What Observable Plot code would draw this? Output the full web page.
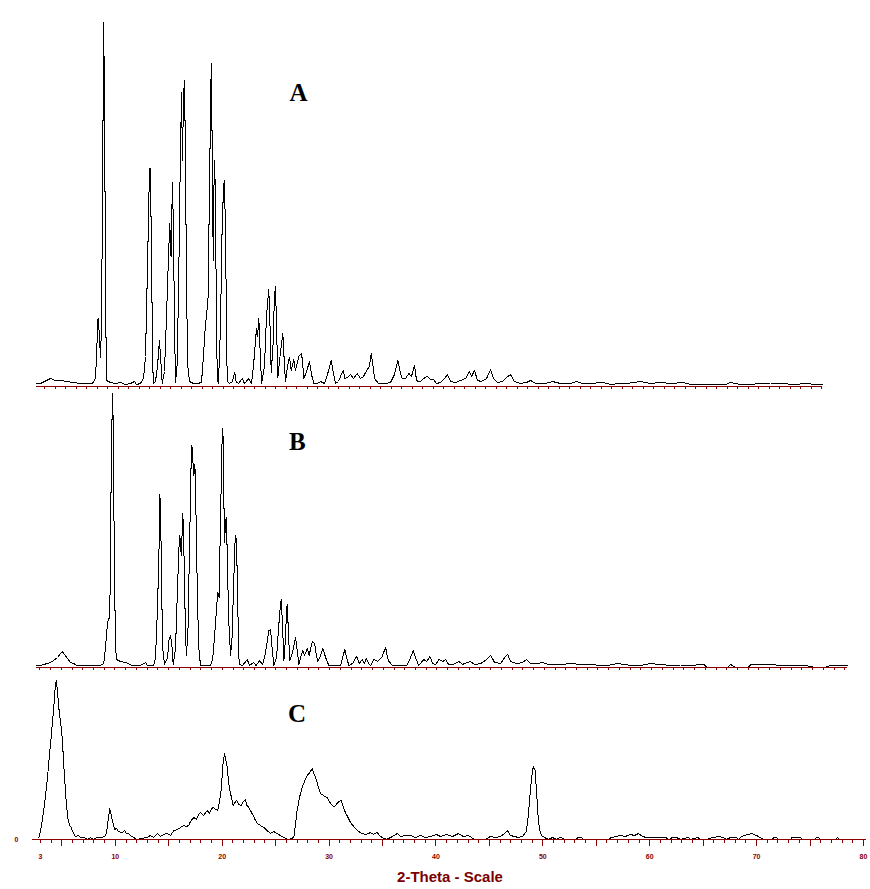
<!DOCTYPE html>
<html>
<head>
<meta charset="utf-8">
<script src="https://cdn.jsdelivr.net/npm/d3@7"></script>
<script src="https://cdn.jsdelivr.net/npm/@observablehq/plot@0.6"></script>
<style>
  body { margin: 0; background: #fff; }
  #chart { position: relative; width: 870px; height: 889px; background: #fff; overflow: hidden; }
  #chart svg { position: absolute; left: 0; overflow: visible; }
  #chart svg path, #chart svg line { shape-rendering: crispEdges; }
  #xlabel { position: absolute; left: 350px; width: 200px; top: 868px; line-height: 18px; text-align: center;
            font: bold 15px "Liberation Sans", Arial, sans-serif; color: #7a0000; }
</style>
</head>
<body>
<div id="chart"><div id="xlabel"></div></div>
<script>
// [2-theta (deg), intensity (a.u.)], one list per sample
const scanA = [[2.24,3],[2.62,3],[3.00,5],[3.57,8],[4.05,6],[4.52,6],[5.10,5],[5.67,4],[6.43,3],[7.57,3],[7.86,8],[8.10,68],[8.24,50],[8.33,29],[8.43,60],[8.57,260],[8.62,364],[8.71,300],[8.81,100],[8.90,6],[9.29,4],[9.76,3],[10.24,4],[10.71,2],[11.19,3],[11.57,5],[11.76,2],[12.14,3],[12.43,8],[12.62,30],[12.81,120],[13.00,218],[13.10,218],[13.19,120],[13.35,3],[13.57,5],[13.76,20],[13.95,46],[14.05,30],[14.21,3],[14.43,15],[14.62,70],[14.81,130],[14.93,163],[15.05,130],[15.14,180],[15.19,204],[15.29,150],[15.38,60],[15.48,4],[15.62,20],[15.76,90],[15.90,200],[16.05,294],[16.14,226],[16.24,290],[16.33,306],[16.43,230],[16.52,100],[16.65,20],[16.81,5],[17.19,3],[17.57,3],[17.95,4],[18.14,30],[18.33,63],[18.43,70],[18.59,91],[18.71,200],[18.88,323],[18.95,260],[19.07,126],[19.14,200],[19.22,226],[19.30,150],[19.45,8],[19.57,3],[19.76,60],[19.90,150],[20.05,200],[20.14,206],[20.24,150],[20.40,5],[20.62,3],[20.90,5],[21.12,14],[21.24,5],[21.48,3],[21.83,8],[22.05,3],[22.46,8],[22.71,3],[22.90,20],[23.19,58],[23.29,50],[23.41,68],[23.52,40],[23.67,3],[23.95,20],[24.14,70],[24.36,97],[24.48,60],[24.59,14],[24.76,40],[24.90,90],[25.00,100],[25.10,60],[25.22,9],[25.43,30],[25.70,53],[25.81,30],[25.95,5],[26.14,20],[26.33,29],[26.50,16],[26.74,27],[26.90,16],[27.22,30],[27.48,33],[27.57,25],[27.70,8],[27.95,15],[28.24,25],[28.43,12],[28.65,3],[29.00,3],[29.29,5],[29.67,3],[29.95,12],[30.30,26],[30.48,15],[30.71,3],[31.00,5],[31.19,10],[31.45,16],[31.62,8],[31.83,9],[32.14,12],[32.43,8],[32.78,13],[33.10,8],[33.38,10],[33.73,17],[33.95,20],[34.11,33],[34.29,20],[34.43,8],[34.81,3],[35.48,3],[35.95,4],[36.33,12],[36.65,26],[36.86,15],[37.07,8],[37.38,8],[37.70,13],[37.95,10],[38.24,21],[38.38,10],[38.50,5],[38.81,5],[39.10,8],[39.45,10],[39.76,7],[40.05,7],[40.33,3],[40.71,4],[41.10,8],[41.38,12],[41.67,5],[42.14,4],[42.62,6],[43.10,8],[43.48,15],[43.67,10],[43.95,16],[44.24,6],[44.62,5],[45.10,8],[45.48,17],[45.76,8],[46.14,4],[46.62,5],[47.00,9],[47.38,12],[47.76,5],[48.33,3],[48.90,4],[49.29,6],[49.76,3],[50.71,3],[51.38,5],[52.14,3],[53.10,3],[53.67,5],[54.24,3],[55.19,3],[55.95,4],[56.24,4],[56.90,2],[57.86,3],[58.81,3.5],[59.76,5],[60.71,3],[61.67,4],[62.62,3],[63.86,4],[64.52,2],[66.43,2],[67.86,2],[68.33,4],[69.29,2],[70.71,2.5],[72.14,3.5],[73.10,3],[74.52,2],[75.48,3],[76.43,2],[77.10,2]];

const scanB = [[2.69,2],[3.07,2],[3.69,4],[4.00,5],[4.28,7],[4.65,10],[5.09,16],[5.30,13],[5.58,9],[5.86,5],[6.14,4],[6.49,2],[7.26,2],[8.19,2],[8.66,2],[8.96,4],[9.12,20],[9.31,45],[9.45,49],[9.54,70],[9.64,180],[9.73,250],[9.80,274],[9.87,200],[9.96,90],[10.06,20],[10.15,8],[10.52,6],[10.99,5],[11.61,2],[12.38,2],[12.85,5],[13.04,2],[13.60,2],[13.78,10],[13.97,60],[14.11,120],[14.18,173],[14.25,160],[14.34,90],[14.44,20],[14.62,3],[14.90,10],[15.04,28],[15.18,32],[15.32,20],[15.43,3],[15.65,20],[15.83,80],[15.97,120],[16.05,132],[16.18,112],[16.33,154],[16.44,110],[16.58,30],[16.67,12],[16.81,40],[16.95,120],[17.09,200],[17.17,222],[17.35,192],[17.45,203],[17.56,150],[17.70,60],[17.84,15],[17.98,2],[18.44,2],[18.91,2],[19.10,8],[19.28,30],[19.47,60],[19.59,75],[19.70,70],[19.84,150],[19.98,225],[20.06,239],[20.12,190],[20.21,125],[20.31,145],[20.37,150],[20.45,120],[20.59,50],[20.77,12],[20.91,30],[21.05,80],[21.19,125],[21.27,132],[21.38,100],[21.52,20],[21.58,3],[21.89,2],[22.33,8],[22.54,2],[22.92,5],[23.15,2],[23.48,7],[23.76,3],[24.03,15],[24.34,37],[24.50,38],[24.64,20],[24.81,2],[25.06,10],[25.25,40],[25.43,64],[25.50,68],[25.62,40],[25.74,7],[25.90,30],[25.99,60],[26.06,63],[26.18,30],[26.30,7],[26.55,15],[26.83,30],[26.97,18],[27.14,3],[27.30,10],[27.51,17],[27.67,12],[27.92,19],[28.09,12],[28.39,26],[28.60,24],[28.74,14],[28.91,6],[29.16,12],[29.37,19],[29.63,10],[29.93,2],[30.56,2],[31.02,2],[31.42,18],[31.63,8],[31.80,2],[32.14,4],[32.52,11],[32.75,4],[33.05,8],[33.26,4],[33.42,9],[33.63,4],[33.82,2],[34.13,8],[34.47,6],[34.85,10],[35.22,20],[35.40,10],[35.53,6],[35.87,2],[36.62,2],[37.18,2],[37.46,8],[37.80,17],[38.01,10],[38.29,2],[38.79,8],[39.04,6],[39.35,11],[39.60,4],[39.88,3],[40.19,8],[40.53,6],[40.81,8],[41.09,3],[41.46,3],[42.05,6],[42.39,3],[42.77,5],[43.14,6],[43.51,3],[44.07,4],[44.63,8],[45.00,12],[45.38,5],[45.94,4],[46.31,10],[46.59,13],[46.87,6],[47.43,4],[47.99,5],[48.36,8],[48.73,4],[49.29,4],[49.85,5],[50.41,3],[51.53,3],[52.46,4],[53.39,3],[54.32,3],[55.26,2],[55.90,2],[56.84,4],[57.50,3],[58.05,2],[59.00,2],[59.92,4],[60.70,3],[61.31,2.5],[62.00,2],[62.71,2.5],[63.50,2],[64.86,3],[65.20,0],[67.10,0],[67.37,3],[67.80,0],[69.00,0],[69.20,2.5],[70.30,3.5],[71.56,2.5],[72.50,2],[73.50,2],[74.36,2],[75.30,0],[76.20,0],[76.60,2],[77.16,2],[78.00,2],[78.27,2]];

const scanC = [[2.84,2],[3.00,8],[3.16,19],[3.37,35],[3.63,59],[3.84,85],[4.00,102],[4.12,118],[4.24,132],[4.36,150],[4.47,159],[4.59,148],[4.71,132],[4.87,118],[5.03,102],[5.15,80],[5.25,62],[5.39,40],[5.55,22],[5.71,14],[5.87,12],[5.99,8],[6.12,6],[6.27,3],[6.58,4],[6.74,2],[7.05,2],[7.40,0],[7.68,2],[7.96,0],[8.30,2],[8.71,2],[8.99,3],[9.17,6],[9.31,18],[9.48,31],[9.60,25],[9.80,16],[9.92,10],[10.11,11],[10.30,8],[10.64,7],[10.86,9],[11.05,6],[11.26,6],[11.42,4],[11.73,2],[11.98,0],[12.98,2],[13.29,4],[13.57,2],[13.92,6],[14.23,3],[14.51,5],[14.85,6],[15.16,4],[15.47,9],[15.82,10],[16.10,12],[16.40,14],[16.66,13],[16.87,14],[17.03,18],[17.34,22],[17.59,20],[17.78,25],[17.97,27],[18.25,24],[18.59,29],[18.81,26],[19.00,31],[19.21,32],[19.37,30],[19.59,29],[19.74,38],[19.90,49],[20.07,75],[20.21,86],[20.33,80],[20.47,72],[20.59,58],[20.71,49],[20.87,42],[21.03,34],[21.19,37],[21.34,39],[21.57,35],[21.77,34],[21.99,38],[22.18,40],[22.32,34],[22.49,32],[22.69,28],[22.90,24],[23.07,20],[23.27,16],[23.58,14],[23.89,12],[24.19,9],[24.52,6],[24.80,8],[25.14,6],[25.45,4],[25.76,2],[26.20,0],[26.70,2],[26.85,15],[27.01,29],[27.23,42],[27.48,52],[27.70,58],[27.95,64],[28.12,66],[28.26,68],[28.42,71],[28.58,66],[28.73,62],[28.96,54],[29.19,46],[29.47,44],[29.82,42],[30.03,38],[30.29,34],[30.50,33],[30.75,36],[30.92,38],[31.13,39],[31.34,32],[31.53,27],[31.77,22],[32.00,17],[32.23,14],[32.47,11],[32.75,8],[33.09,6],[33.40,5],[33.68,6],[33.87,7],[34.15,5],[34.50,7],[34.71,4],[34.96,2],[35.37,0],[35.93,3],[36.37,6],[36.68,3],[37.14,4],[37.61,4],[38.08,2],[38.55,4],[39.01,2],[39.48,3],[40.04,5],[40.42,3],[40.98,5],[41.54,3],[42.10,6],[42.57,3],[43.04,4],[43.60,0],[44.63,0],[45.10,3],[45.56,2],[46.03,3],[46.40,6],[46.69,9],[46.97,4],[47.34,3],[47.71,2],[48.09,3],[48.46,8],[48.65,25],[48.84,50],[49.02,68],[49.12,73],[49.26,70],[49.40,50],[49.54,25],[49.68,10],[49.87,4],[50.15,2],[50.52,0],[50.90,2],[51.27,0],[51.64,2],[52.11,0],[53.05,0],[53.30,2],[53.60,2],[53.80,0],[56.13,0],[56.40,2],[56.88,3],[57.26,4],[57.72,3],[58.19,5],[58.57,4],[58.94,6],[59.31,3],[59.69,2],[60.06,2],[61.50,2],[61.80,0],[62.10,2],[62.50,2],[62.87,0],[63.60,2],[63.80,0],[64.50,2],[64.70,0],[65.30,0],[65.86,2],[66.50,3],[66.90,2],[67.20,0],[67.55,2],[68.10,2],[68.30,0],[68.48,2],[68.86,4],[69.23,5],[69.60,6],[69.98,4],[70.35,2],[70.60,0],[71.47,0],[71.60,2],[71.85,2],[72.00,0],[73.16,0],[73.30,2],[74.09,2],[74.30,0],[75.50,0],[75.60,2],[75.78,2],[76.00,0],[77.40,0],[77.56,2],[77.70,0]];

const sampleNames = ["A", "B", "C"];
const scanRangesA = [2.24, 77.1];   // 2-theta span of each sample's baseline
const scanRangesB = [2.69, 78.27];
const scanRangesC = [2.25, 80.27];
const tickLabels = [3, 10, 20, 30, 40, 50, 60, 70, 80];
const axisTitle = "2-Theta - Scale";
const zeroLabel = [0];

const axisRed = "#8a0000";
const serif = "'Liberation Serif', 'Times New Roman', serif";
const sans = "'Liberation Sans', Arial, sans-serif";
const chart = document.getElementById("chart");

function lineMark(scan) {
  return Plot.line(scan, {x: d => d[0], y: d => d[1], stroke: "black", strokeWidth: 1});
}
function nameMark(name, x, y) {
  return Plot.text([name], {x, y, text: d => d, fontSize: 25, fontWeight: "bold",
    fontFamily: serif, fill: "black"});
}
function place(svg, top) {
  svg.style.top = top + "px";
  chart.appendChild(svg);
}

// Sample A
place(Plot.plot({
  width: 870, height: 392, marginTop: 0, marginBottom: 6, marginLeft: 44, marginRight: 49,
  x: {domain: [3, 77]}, y: {domain: [0, 386], axis: null},
  style: {background: "transparent", fontFamily: sans},
  marks: [
    lineMark(scanA),
    Plot.ruleY([0], {x1: scanRangesA[0], x2: scanRangesA[1], stroke: axisRed}),
    Plot.axisX(d3.range(3, 78), {tickSize: 2.5, tickFormat: () => "", color: axisRed, label: null}),
    nameMark(sampleNames[0], 27.2, 294)
  ]
}), 0);

// Sample B
place(Plot.plot({
  width: 870, height: 282, marginTop: 0, marginBottom: 5, marginLeft: 39.3, marginRight: 25.7,
  x: {domain: [3, 78]}, y: {domain: [0, 277], axis: null},
  style: {background: "transparent", fontFamily: sans},
  marks: [
    lineMark(scanB),
    Plot.ruleY([0], {x1: scanRangesB[0], x2: scanRangesB[1], stroke: axisRed}),
    Plot.axisX(d3.range(3, 79), {tickSize: 3, tickFormat: () => "", color: axisRed, label: null}),
    nameMark(sampleNames[1], 27.0, 226)
  ]
}), 390);

// Sample C with the labelled 2-theta axis
place(Plot.plot({
  width: 870, height: 217, marginTop: 0, marginBottom: 50, marginLeft: 40, marginRight: 7,
  x: {domain: [3, 80]}, y: {domain: [0, 167]},
  style: {background: "transparent", fontFamily: sans},
  marks: [
    lineMark(scanC),
    Plot.ruleY([0], {x1: scanRangesC[0], x2: scanRangesC[1], stroke: axisRed}),
    Plot.axisX(d3.range(3, 81), {tickSize: 4, tickFormat: () => "", color: axisRed, label: null}),
    Plot.axisX(d3.range(5, 81, 5), {tickSize: 7, tickFormat: () => "", color: axisRed, label: null}),
    Plot.axisX(tickLabels, {tickSize: 0, tickPadding: 15, color: axisRed, label: null,
      fontSize: 7, fontWeight: "bold"}),
    Plot.axisY(zeroLabel, {tickSize: 0, tickPadding: 22, color: axisRed, label: null,
      fontSize: 7, fontWeight: "bold"}),
    nameMark(sampleNames[2], 27.0, 126)
  ]
}), 672);

document.getElementById("xlabel").textContent = axisTitle;
</script>
</body>
</html>
